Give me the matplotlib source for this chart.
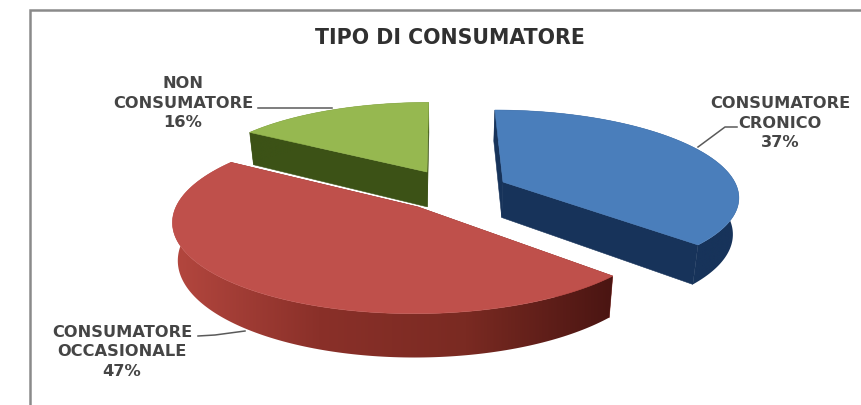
#!/usr/bin/env python3
import matplotlib
matplotlib.use("Agg")
import matplotlib.colors as mcolors
import matplotlib.patches as mpatches
import matplotlib.pyplot as plt
import numpy as np

title = "TIPO DI CONSUMATORE"
categories = ["CONSUMATORE\nCRONICO", "CONSUMATORE\nOCCASIONALE", "NON\nCONSUMATORE"]
shares = [37, 47, 16]

top_colors = ["#4a7ebb", "#bf504b", "#96b850"]
side_colors = ["#17335a", "#8a3029", "#3c5216"]
# Outer wall of each slice is shaded through these colours, left to right
wall_ramps = [
    ["#17335a", "#17335a"],
    ["#b4473f", "#8a3029", "#7a2a22", "#4a1512"],
    ["#3c5216", "#3c5216"],
]
# Where the point of each exploded slice lands on the canvas
apexes = [(503, 182), (418, 207), (427, 172)]
draw_order = [2, 0, 1]

label_pos = [(780, 123), (122, 352), (183, 103)]
leaders = [
    [(698, 147), (725, 127), (737, 127)],
    [(198, 336), (215, 335), (245, 331)],
    [(258, 108), (332, 108)],
]

CX, CY = 440, 190
RX, RY = 235, 85
PERSPECTIVE = 0.15
DEPTH = 36
# The underside is further from the eye, so it is a little narrower
BOTTOM_SHRINK = 0.02
FONT = "DejaVu Sans"


def project(x, y, z=0.0):
    # Pie plane to canvas, things further back shrink towards the centre
    scale = 1 / (1 + PERSPECTIVE * y)
    return CX + RX * x * scale * (1 - BOTTOM_SHRINK * z), CY - RY * y * scale + DEPTH * z * scale


def unproject(sx, sy):
    u = CY - sy
    y = u / (RY - PERSPECTIVE * u)
    return (sx - CX) * (1 + PERSPECTIVE * y) / RX, y


def flat_wall(ax, x0, y0, x1, y1, color, zorder):
    ax0, ay0 = project(x0, y0)
    ax1, ay1 = project(x1, y1)
    bx0, by0 = project(x0, y0, 1)
    bx1, by1 = project(x1, y1, 1)
    ax.fill([ax0, ax1, bx1, bx0], [ay0, ay1, by1, by0], facecolor=color, edgecolor=color,
            linewidth=0.4, zorder=zorder)


def curved_wall(ax, xs, ys, ramp, zorder):
    tx, ty = project(xs, ys)
    bx, by = project(xs, ys, 1)
    outline = np.column_stack([np.r_[tx, bx[::-1]], np.r_[ty, by[::-1]]])
    shape = mpatches.Polygon(outline, closed=True, transform=ax.transData, facecolor="none", edgecolor="none")
    ax.add_patch(shape)
    cmap = mcolors.LinearSegmentedColormap.from_list("wall", ramp)
    image = ax.imshow(np.linspace(0, 1, 256)[None, :], cmap=cmap, aspect="auto", zorder=zorder,
                      extent=(outline[:, 0].min(), outline[:, 0].max(), outline[:, 1].max(), outline[:, 1].min()))
    image.set_clip_path(shape)


def draw_slice(ax, start, stop, apex, top, side, ramp, zorder):
    ox, oy = unproject(*apex)
    theta = np.linspace(start, stop, 160)
    xs = ox + np.sin(theta)
    ys = oy + np.cos(theta)

    # Straight walls first, the top covers whichever of them faces away
    flat_wall(ax, ox, oy, xs[0], ys[0], side, zorder)
    flat_wall(ax, ox, oy, xs[-1], ys[-1], side, zorder)
    curved_wall(ax, xs, ys, ramp, zorder + 0.1)

    px, py = project(np.r_[ox, xs], np.r_[oy, ys])
    ax.fill(px, py, facecolor=top, edgecolor=top, linewidth=0.4, zorder=zorder + 0.2)


fig = plt.figure(figsize=(8.61, 4.05), dpi=100, facecolor="white")
ax = fig.add_axes([0, 0, 1, 1])

# Chart frame, only the top and left sides are in view
ax.plot([30, 30, 861], [405, 10, 10], color="#8a8a8a", linewidth=1.8, solid_joinstyle="miter", zorder=1)

edges = np.r_[0, np.cumsum(shares)] / np.sum(shares) * 2 * np.pi
for order, i in enumerate(draw_order):
    draw_slice(ax, edges[i], edges[i + 1], apexes[i], top_colors[i], side_colors[i], wall_ramps[i], 3 + order)

ax.text(450, 38, title, ha="center", va="center", fontsize=14.8, fontweight="bold", family=FONT,
        color="#303030", zorder=10)

for i, name in enumerate(categories):
    text = "{}\n{}%".format(name, shares[i])
    ax.text(*label_pos[i], text, ha="center", va="center", fontsize=11.7, fontweight="bold", family=FONT,
            color="#454545", linespacing=1.4, zorder=10)
    xs, ys = zip(*leaders[i])
    ax.plot(xs, ys, color="#5a5a5a", linewidth=1.1, zorder=2)

# imshow resets the limits, so the pixel canvas is fixed last
ax.set_xlim(0, 861)
ax.set_ylim(405, 0)
ax.axis("off")

fig.savefig("out.png", dpi=100)
